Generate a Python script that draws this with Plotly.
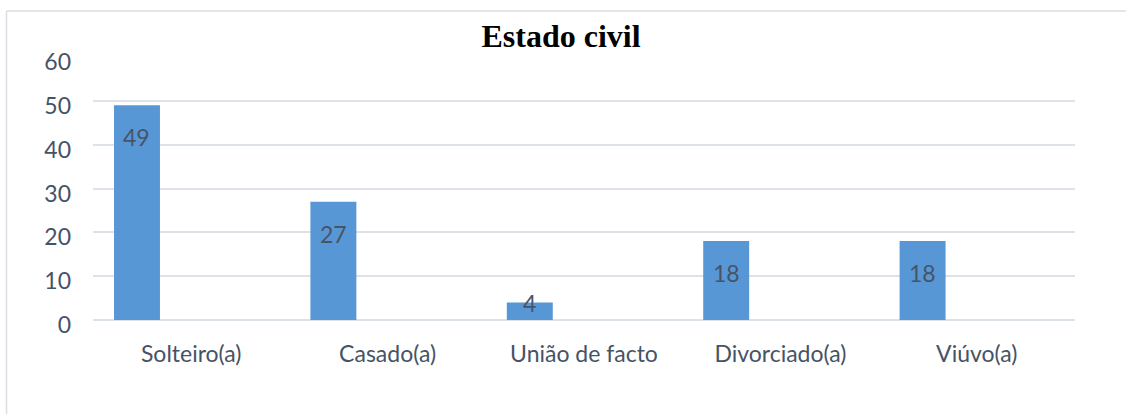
import plotly.graph_objects as go

categories = ["Solteiro(a)", "Casado(a)", "União de facto", "Divorciado(a)", "Viúvo(a)"]
values = [49, 27, 4, 18, 18]
y_ticks = [0, 10, 20, 30, 40, 50, 60]
title_text = "Estado civil"

W, H = 1126, 414
L, R, T, B = 93, 51, 57, 94
plot_w = W - L - R
plot_h = H - T - B
y_max = 60

bar_offset = -0.393
bar_width = 0.234

label_font = dict(family="Lato, Open Sans, sans-serif", size=23, color="#465366")
grid_color = "#dde1e8"
border_color = "#d9dde3"

fig = go.Figure()
fig.add_trace(go.Bar(
    x=categories, y=values,
    offset=bar_offset, width=bar_width,
    marker=dict(color="#5897d6", line=dict(width=0)),
    hoverinfo="x+y",
))

annotations = []
px_per_unit = plot_h / y_max
for i, v in enumerate(values):
    bar_px = v * px_per_unit
    shift = -32 if bar_px > 50 else -1
    annotations.append(dict(
        x=i + bar_offset + bar_width / 2, y=v, xref="x", yref="y",
        text=str(v), showarrow=False, yshift=shift,
        font=dict(family="Lato, Open Sans, sans-serif", size=23, color="#475466"),
        xanchor="center", yanchor="middle",
    ))

shapes = [
    dict(type="line", xref="paper", yref="paper",
         x0=(6.5 - L) / plot_w, x1=(W - L) / plot_w,
         y0=(H - B - 11) / plot_h, y1=(H - B - 11) / plot_h,
         line=dict(color=border_color, width=1.5)),
    dict(type="line", xref="paper", yref="paper",
         x0=(6.5 - L) / plot_w, x1=(6.5 - L) / plot_w,
         y0=(H - B - 11) / plot_h, y1=(H - B - H) / plot_h,
         line=dict(color=border_color, width=1.5)),
]

fig.update_layout(
    width=W, height=H,
    margin=dict(l=L, r=R, t=T, b=B, pad=0),
    paper_bgcolor="white", plot_bgcolor="white",
    showlegend=False,
    title=dict(text="<b>" + title_text + "</b>", x=561 / W, xanchor="center",
               y=1 - 36 / H, yanchor="middle", yref="container",
               font=dict(family="Liberation Serif, Times New Roman, serif", size=32, color="#000000")),
    xaxis=dict(range=[-0.5, 4.5], type="category", showgrid=False, zeroline=False,
               showline=False, ticks="", tickfont=label_font, ticklabelstandoff=18,
               fixedrange=True),
    yaxis=dict(range=[0, y_max], tickvals=y_ticks, showgrid=True, gridcolor=grid_color,
               gridwidth=1.5, zeroline=True, zerolinecolor=grid_color, zerolinewidth=1.5,
               showline=False, ticks="", tickfont=label_font, ticklabelstandoff=21,
               ticklabelshift=5, fixedrange=True),
    annotations=annotations,
    shapes=shapes,
)

fig.write_html("out.html", config={"displayModeBar": False},
               post_script="document.body.style.margin='0px';document.body.style.padding='0px';")
